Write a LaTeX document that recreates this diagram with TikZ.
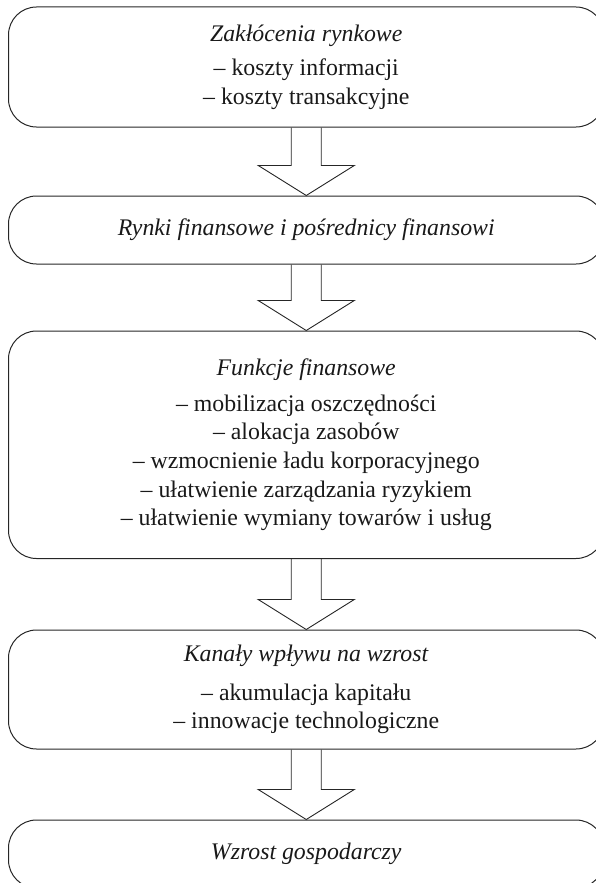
\documentclass[tikz,border=0pt]{standalone}
\usepackage{fontspec}
\setmainfont{Liberation Serif}
\usetikzlibrary{calc}
\tikzset{box/.style={draw=black!85, line width=1pt, rounded corners=28pt, minimum width=595.5pt, align=center, inner sep=0pt, font=\fontsize{23.8}{28.7}\selectfont, text=black!90},
blockarrow/.style={draw=black!85, line width=0.9pt}}

\begin{document}
\begin{tikzpicture}[x=1pt,y=1pt]
\useasboundingbox (0,0) rectangle (595,-883);
\node[box, minimum height=120pt] (zaklocenia) at (306.25,-67) {\textit{Zakłócenia rynkowe}\\[6pt] – koszty informacji\\ – koszty transakcyjne};
\node[box, minimum height=68pt] (rynki) at (306.25,-230) {\textit{Rynki finansowe i pośrednicy finansowi}};
\node[box, minimum height=227.5pt] (funkcje) at (306.25,-444.75) {\textit{Funkcje finansowe}\\[7pt] – mobilizacja oszczędności\\ – alokacja zasobów\\ – wzmocnienie ładu korporacyjnego\\ – ułatwienie zarządzania ryzykiem\\ – ułatwienie wymiany towarów i usług};
\node[box, minimum height=119pt] (kanaly) at (306.25,-689.5) {\textit{Kanały wpływu na wzrost}\\[10pt] – akumulacja kapitału\\ – innowacje technologiczne};
\node[box, minimum height=68pt] (wzrost) at (306.25,-854) {\textit{Wzrost gospodarczy}};
% strzalki blokowe
\draw[blockarrow] let \p1=(zaklocenia.south), \p2=(rynki.north) in (\x1-15pt,\y1) -- (\x1-15pt,\y2+30pt) -- (\x1-48pt,\y2+30pt) -- (\p2) -- (\x1+48pt,\y2+30pt) -- (\x1+15pt,\y2+30pt) -- (\x1+15pt,\y1);
\draw[blockarrow] let \p1=(rynki.south), \p2=(funkcje.north) in (\x1-15pt,\y1) -- (\x1-15pt,\y2+30pt) -- (\x1-48pt,\y2+30pt) -- (\p2) -- (\x1+48pt,\y2+30pt) -- (\x1+15pt,\y2+30pt) -- (\x1+15pt,\y1);
\draw[blockarrow] let \p1=(funkcje.south), \p2=(kanaly.north) in (\x1-15pt,\y1) -- (\x1-15pt,\y2+30pt) -- (\x1-48pt,\y2+30pt) -- (\p2) -- (\x1+48pt,\y2+30pt) -- (\x1+15pt,\y2+30pt) -- (\x1+15pt,\y1);
\draw[blockarrow] let \p1=(kanaly.south), \p2=(wzrost.north) in (\x1-15pt,\y1) -- (\x1-15pt,\y2+30pt) -- (\x1-48pt,\y2+30pt) -- (\p2) -- (\x1+48pt,\y2+30pt) -- (\x1+15pt,\y2+30pt) -- (\x1+15pt,\y1);
\end{tikzpicture}
\end{document}
